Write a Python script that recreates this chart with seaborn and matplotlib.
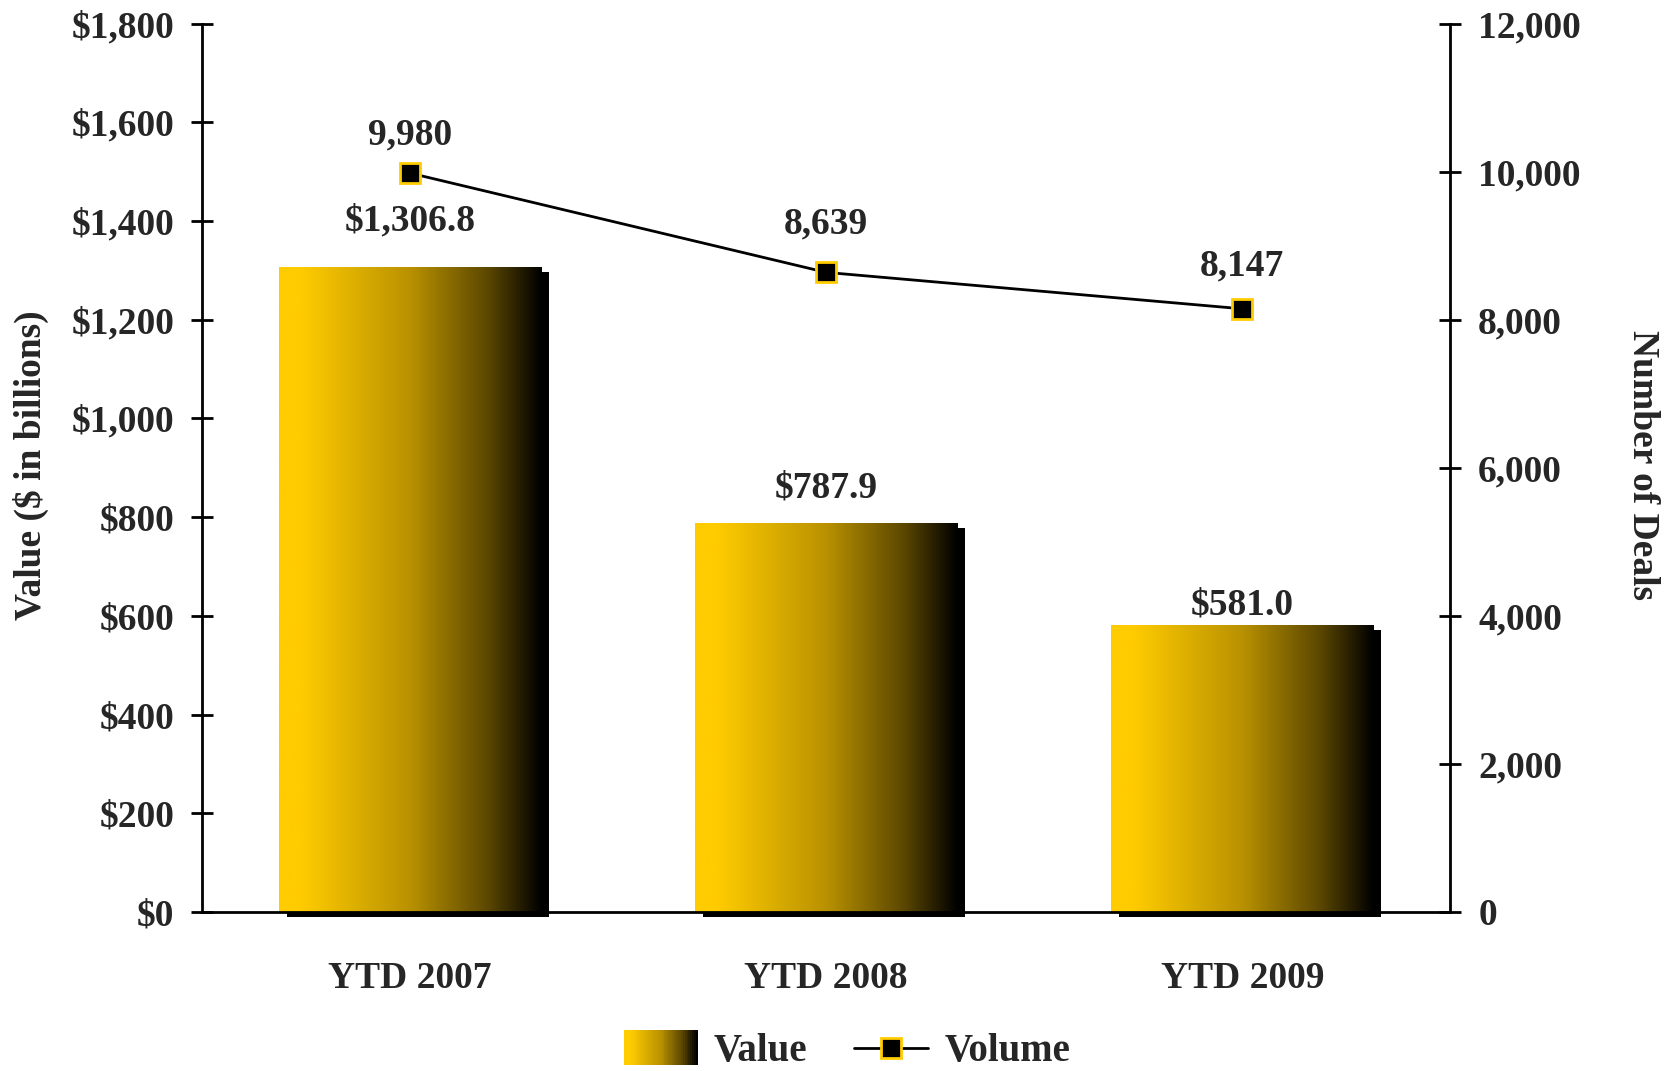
import numpy as np
import matplotlib
matplotlib.use("Agg")
import matplotlib.pyplot as plt
import matplotlib.transforms as mtransforms
from matplotlib.colors import LinearSegmentedColormap
from matplotlib.patches import Rectangle
from matplotlib.lines import Line2D
from matplotlib.legend_handler import HandlerBase
import seaborn as sns

# data
years = ["YTD 2007", "YTD 2008", "YTD 2009"]
value = [1306.8, 787.9, 581.0]
volume = [9980, 8639, 8147]
value_labels = ["$1,306.8", "$787.9", "$581.0"]

# label offsets (points) as placed in the original
value_offsets = [33, 25, 14.5]
volume_offsets = [27.5, 35, 31]

gold = "#FFCC00"
cmap = LinearSegmentedColormap.from_list(
    "goldblack",
    [(0.0, "#FFCC00"), (0.08, "#FFCC00"), (0.5, "#B99100"),
     (0.8, "#5A4600"), (1.0, "#000000")])

sns.set_style("white")
plt.rcParams["font.family"] = ["Liberation Serif", "DejaVu Serif"]
plt.rcParams["font.weight"] = "bold"
fs = 27

fig = plt.figure(figsize=(16.69, 10.71), dpi=100)
ax = fig.add_axes([0.121, 0.1485, 0.748, 0.8295])

sns.barplot(x=years, y=value, ax=ax, color=gold, width=0.63, saturation=1)

# gradient fill + offset shadow for each bar
grad = np.linspace(0, 1, 256).reshape(1, -1)
shadow_tr = mtransforms.offset_copy(ax.transData, fig=fig, x=8, y=-5, units="dots")
for p in ax.patches:
    x0, w, h = p.get_x(), p.get_width(), p.get_height()
    ax.add_patch(Rectangle((x0, 0), w, h, transform=shadow_tr, facecolor="black",
                           edgecolor="none", zorder=1.5, clip_on=False))
    p.set_zorder(2)
    p.set_edgecolor("none")
    im = ax.imshow(grad, extent=[x0, x0 + w, 0, h], aspect="auto", cmap=cmap,
                   zorder=2.1, interpolation="bicubic")
    im.set_clip_path(p)

for i, (v, lab) in enumerate(zip(value, value_labels)):
    ax.annotate(lab, (i, v), xytext=(0, value_offsets[i]), textcoords="offset points",
                ha="center", va="center", fontsize=fs, fontweight="bold")

ax.set_xlim(-0.5, 2.5)
ax.set_ylim(0, 1800)
ax.set_yticks(np.arange(0, 1801, 200))
ax.set_yticklabels([f"${t:,}" for t in range(0, 1801, 200)])
ax.set_xticks([-0.5, 0.5, 1.5, 2.5])
ax.set_xticklabels([])
ax.set_xticks([0, 1, 2], minor=True)
ax.set_xticklabels(years, minor=True)
ax.tick_params(axis="x", which="minor", length=0, pad=35, labelsize=fs)
ax.tick_params(axis="x", which="major", direction="inout", length=16, width=2, color="black")
ax.tick_params(axis="y", direction="inout", length=16, width=2, color="black",
               labelsize=fs, pad=12, left=True)
ax.set_ylabel("")
for s in ["left", "bottom"]:
    ax.spines[s].set_linewidth(2)
    ax.spines[s].set_color("black")
ax.spines["top"].set_visible(False)
ax.spines["right"].set_visible(False)

# volume line on secondary axis
ax2 = ax.twinx()
sns.lineplot(x=np.arange(len(years)), y=volume, ax=ax2, color="black", lw=2,
             marker="s", markersize=14, markerfacecolor="black",
             markeredgecolor=gold, markeredgewidth=2, zorder=5)
for i, v in enumerate(volume):
    ax2.annotate(f"{v:,}", (i, v), xytext=(0, volume_offsets[i]), textcoords="offset points",
                 ha="center", va="center", fontsize=fs, fontweight="bold")
ax2.set_ylim(0, 12000)
ax2.set_yticks(np.arange(0, 12001, 2000))
ax2.set_yticklabels([f"{t:,}" for t in range(0, 12001, 2000)])
ax2.tick_params(axis="y", direction="inout", length=16, width=2, color="black",
                labelsize=fs, pad=12, right=True)
ax2.set_ylabel("")
ax2.spines["right"].set_linewidth(2)
ax2.spines["right"].set_color("black")
for s in ["top", "left", "bottom"]:
    ax2.spines[s].set_visible(False)
ax.set_xlim(-0.5, 2.5)

fig.text(31 / 1669, 0.566, "Value ($ in billions)", rotation=90, ha="center", va="center",
         fontsize=fs, fontweight="bold")
fig.text(1642 / 1669, 0.566, "Number of Deals", rotation=270, ha="center", va="center",
         fontsize=fs, fontweight="bold")


class GradientHandler(HandlerBase):
    def create_artists(self, legend, orig, xd, yd, width, height, fontsize, trans):
        n = 40
        arts = []
        for k in range(n):
            arts.append(Rectangle((xd + width * k / n, yd - 3), width / n + 0.3, height + 6,
                                  facecolor=cmap(k / (n - 1)), edgecolor="none",
                                  transform=trans))
        return arts


h_val = Rectangle((0, 0), 1, 1)
h_vol = Line2D([], [], color="black", lw=2, marker="s", markersize=14,
               markerfacecolor="black", markeredgecolor=gold, markeredgewidth=2)
fig.legend([h_val, h_vol], ["Value", "Volume"], handler_map={Rectangle: GradientHandler()},
           loc="center", bbox_to_anchor=(0.5075, 0.018), ncol=2, frameon=False,
           fontsize=fs + 1, handlelength=1.9, columnspacing=1.2, handletextpad=0.42)

fig.savefig("out.png", dpi=100)
